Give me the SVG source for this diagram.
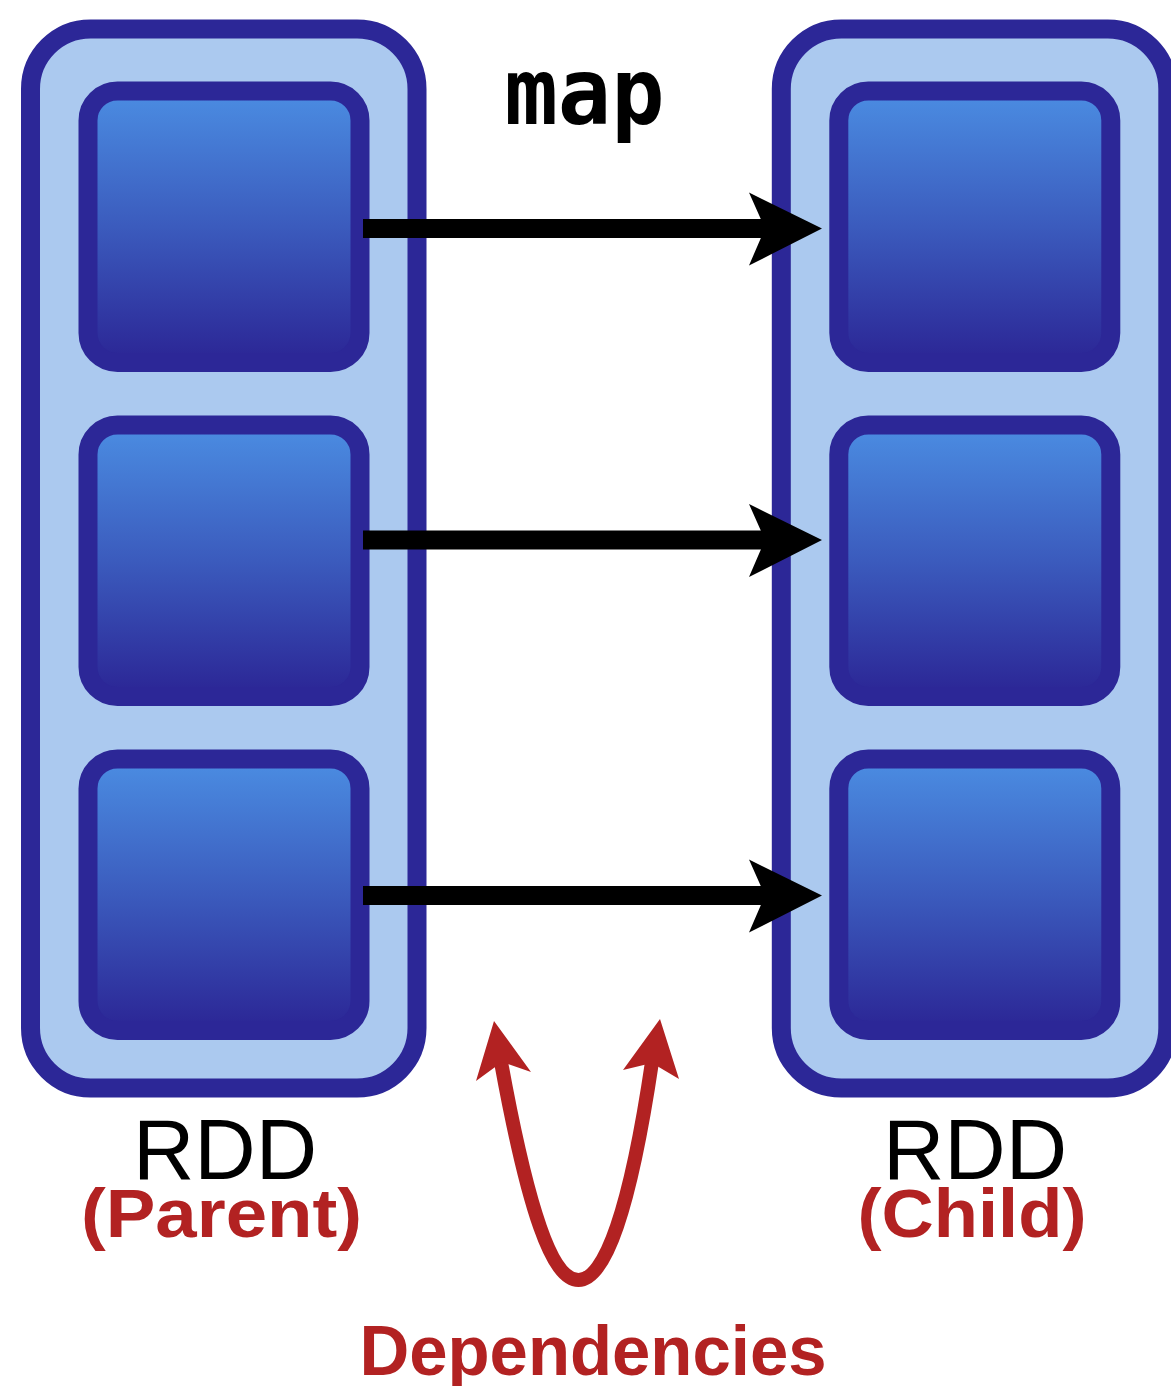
<svg xmlns="http://www.w3.org/2000/svg" width="1171" height="1386" viewBox="0 0 1171 1386">
  <style>
    .rdd { fill: #abc9ef; stroke: #2c2797; stroke-width: 19; }
    .part { fill: url(#partGrad); stroke: #2c2797; stroke-width: 19; }
    .flow { stroke: #000; stroke-width: 19; fill: none; }
    .dep { stroke: #b22222; stroke-width: 14; fill: none; stroke-linecap: round; }
    .head { fill: #000; }
    .dephead { fill: #b22222; }
    .op { font-family: "DejaVu Sans Mono", "Liberation Mono", monospace; font-weight: bold; font-size: 93px; fill: #000; }
    .name { font-family: "Liberation Sans", "DejaVu Sans", sans-serif; font-size: 85px; fill: #000; }
    .role { font-family: "Liberation Sans", "DejaVu Sans", sans-serif; font-weight: bold; font-size: 68px; fill: #b22222; }
  </style>
  <defs>
    <linearGradient id="partGrad" x1="0" y1="0" x2="0" y2="1">
      <stop offset="0.03" stop-color="#4a8ae0"/>
      <stop offset="0.5" stop-color="#3b5bbd"/>
      <stop offset="0.97" stop-color="#2c2897"/>
    </linearGradient>
    <!-- arrowhead pointing right, tip at the origin -->
    <path id="flowHead" d="M0,0 L-73,-36 L-57,0 L-73,37 Z"/>
  </defs>

  <!-- parent RDD with its three partitions -->
  <g id="rdd-parent">
    <rect class="rdd" x="30.5" y="29" width="386.5" height="1059" rx="60" ry="60"/>
    <rect class="part" x="88" y="91" width="272" height="271.5" rx="29.5" ry="29.5"/>
    <rect class="part" x="88" y="425" width="272" height="271.5" rx="29.5" ry="29.5"/>
    <rect class="part" x="88" y="759" width="272" height="271.5" rx="29.5" ry="29.5"/>
    <text class="name" x="225" y="1179" text-anchor="middle">RDD</text>
    <text class="role" x="221.5" y="1237" text-anchor="middle" textLength="281" lengthAdjust="spacingAndGlyphs">(Parent)</text>
  </g>

  <!-- child RDD with its three partitions -->
  <g id="rdd-child">
    <rect class="rdd" x="781.3" y="29" width="386.5" height="1059" rx="60" ry="60"/>
    <rect class="part" x="838.8" y="91" width="272" height="271.5" rx="29.5" ry="29.5"/>
    <rect class="part" x="838.8" y="425" width="272" height="271.5" rx="29.5" ry="29.5"/>
    <rect class="part" x="838.8" y="759" width="272" height="271.5" rx="29.5" ry="29.5"/>
    <text class="name" x="975" y="1179" text-anchor="middle">RDD</text>
    <text class="role" x="972" y="1237" text-anchor="middle" textLength="229" lengthAdjust="spacingAndGlyphs">(Child)</text>
  </g>

  <!-- operation label -->
  <g id="op-map">
    <text class="op" x="584.5" y="124" text-anchor="middle" textLength="160" lengthAdjust="spacingAndGlyphs">map</text>
  </g>

  <!-- one-to-one map connectors and the dependency arc -->
  <g id="connectors">
    <line class="flow" x1="363" y1="228.5" x2="768" y2="228.5"/>
    <use href="#flowHead" class="head" transform="translate(822,228.5)"/>
    <line class="flow" x1="363" y1="540" x2="768" y2="540"/>
    <use href="#flowHead" class="head" transform="translate(822,540)"/>
    <line class="flow" x1="363" y1="895.5" x2="768" y2="895.5"/>
    <use href="#flowHead" class="head" transform="translate(822,895.5)"/>

    <path class="dep" d="M501,1062 C528,1210 552,1280 578.5,1280 C605,1280 630,1210 652,1062"/>
    <polygon class="dephead" points="494,1021 476,1081 502,1062 531,1072"/>
    <polygon class="dephead" points="660,1019 623,1070 652,1063 679,1079"/>
  </g>

  <g id="label-dependencies">
    <text class="role" x="593" y="1375" text-anchor="middle" textLength="467" lengthAdjust="spacingAndGlyphs" style="font-size:70px">Dependencies</text>
  </g>
</svg>
